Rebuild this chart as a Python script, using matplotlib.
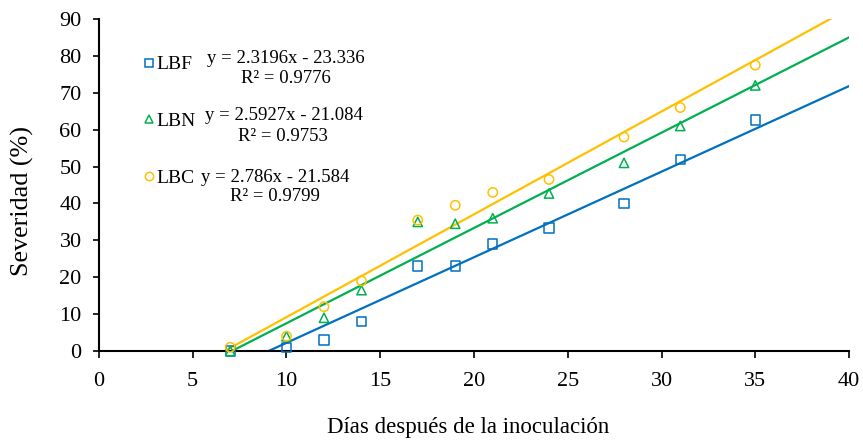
import numpy as np
import matplotlib.pyplot as plt
from matplotlib.lines import Line2D

plt.rcParams['font.family'] = ['Liberation Serif', 'DejaVu Serif']

# datos
dias = [7, 10, 12, 14, 17, 19, 21, 24, 28, 31, 35]
lbf = [0, 1, 3, 8, 23, 23, 29, 33.3, 40, 52, 62.6]
lbn = [0, 4, 9, 16.5, 35, 34.5, 36, 42.7, 51, 61, 72]
lbc = [1, 4, 12, 19, 35.5, 39.5, 43, 46.5, 58, 66, 77.5]

nombres = ['LBF', 'LBN', 'LBC']
ecuaciones = ['y = 2.3196x - 23.336', 'y = 2.5927x - 21.084', 'y = 2.786x - 21.584']
r2 = ['R² = 0.9776', 'R² = 0.9753', 'R² = 0.9799']

colores = ['#0070C0', '#00B050', '#FFC000']
marcadores = ['s', '^', 'o']

fig = plt.figure(figsize=(8.63, 4.42), dpi=100)
ax = fig.add_axes([0.1147, 0.2059, 0.8691, 0.7511])

x_linea = np.array([0, 40])
for y, c in zip([lbf, lbn, lbc], colores):
    # línea de tendencia lineal
    p = np.polyfit(dias, y, 1)
    ax.plot(x_linea, np.polyval(p, x_linea), color=c, lw=1.6)
for y, c, m in zip([lbf, lbn, lbc], colores, marcadores):
    ax.scatter(dias, y, marker=m, facecolors='none', edgecolors=c,
               s=45, linewidths=1.1, zorder=3, clip_on=False)

ax.set_xlim(0, 40)
ax.set_ylim(0, 90)
ax.set_xticks(range(0, 41, 5))
ax.set_yticks(range(0, 91, 10))
ax.spines['top'].set_visible(False)
ax.spines['right'].set_visible(False)
ax.spines['left'].set_linewidth(1.5)
ax.spines['bottom'].set_linewidth(1.5)
ax.tick_params(axis='x', direction='out', length=5, width=1.2, labelsize=16, pad=10)
ax.tick_params(axis='y', direction='out', length=4.5, width=1.2, labelsize=16, pad=8)

ax.set_xlabel('Días después de la inoculación', fontsize=16.5)
ax.xaxis.set_label_coords(0.492, -0.2)
ax.set_ylabel('Severidad (%)', fontsize=18.8)
ax.yaxis.set_label_coords(-0.086, 0.452)

# leyenda
handles = [Line2D([], [], ls='none', marker=m, mfc='none', mec=c, ms=6, mew=1.1)
           for m, c in zip(marcadores, colores)]
ax.legend(handles, nombres, loc='upper left', bbox_to_anchor=(0.035, 0.942),
          frameon=False, fontsize=14, labelspacing=2.02, handlelength=0.6,
          handletextpad=0.1)

# ecuaciones
y_ec = [0.8825, 0.7108, 0.524]
x_ec = [0.2487, 0.246, 0.2347]
y_r2 = [0.8193, 0.6446, 0.4639]
x_r2 = [0.249, 0.2447, 0.2347]
for i in range(3):
    ax.text(x_ec[i], y_ec[i], ecuaciones[i], transform=ax.transAxes, fontsize=13.5,
            ha='center', va='center')
    ax.text(x_r2[i], y_r2[i], r2[i], transform=ax.transAxes, fontsize=13.5,
            ha='center', va='center')

fig.savefig('out.png', dpi=100)
